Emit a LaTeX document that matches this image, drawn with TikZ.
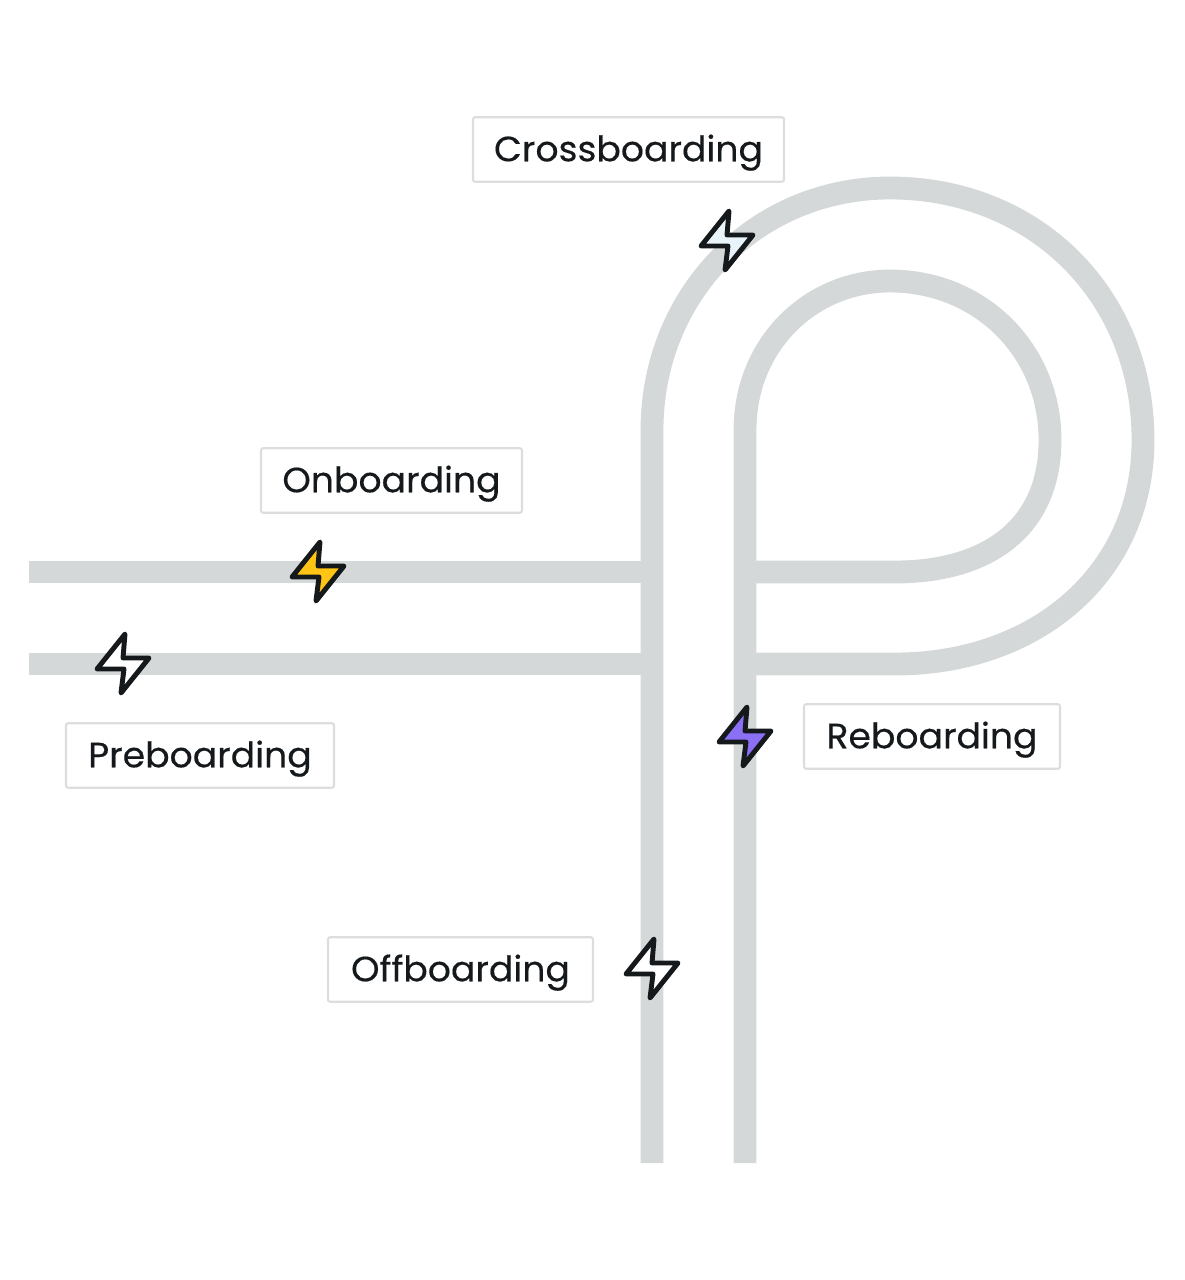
\documentclass[tikz,border=0pt]{standalone}
\usepackage{fontspec}
\setmainfont[FakeBold=0.3, FakeStretch=1.03]{Poppins}
\definecolor{trackgray}{HTML}{D5D8D8}
\definecolor{labelgray}{HTML}{DCDEDE}
\definecolor{inkblack}{HTML}{15191C}
\definecolor{boltice}{HTML}{E8F4FA}
\definecolor{boltyellow}{HTML}{FFC414}
\definecolor{boltviolet}{HTML}{8B6FF5}
\tikzset{
  track/.style={draw=trackgray, line width=13pt},
  stage/.style={draw=labelgray, line width=1.2pt, fill=white, rounded corners=1.2pt, inner sep=0pt,
    text=inkblack, font=\fontsize{20}{24}\selectfont, minimum height=1.29cm, text height=16pt, text depth=2.6pt},
  bolt/.style={draw=inkblack, line width=2.8pt, line join=round, line cap=round}
}
\begin{document}
\begin{tikzpicture}[x=0.02cm, y=-0.02cm]
\useasboundingbox (0,0) rectangle (1184,1280);
% tracks
\coordinate (outerL) at (29,664);
\coordinate (outerJ) at (652,664);
\coordinate (innerL) at (29,572);
\coordinate (innerJ) at (652,572);
\draw[track] (outerL) -- (outerJ);
\draw[track] (innerL) -- (innerJ);
\draw[track] (652,1163) -- (652,430)
  .. controls (652,295) and (755,188) .. (890,188)
  .. controls (1035,188) and (1143,295) .. (1143,440)
  .. controls (1143,575) and (1035,664) .. (895,664) -- (745,664);
\draw[track] (745,1163) -- (745,430)
  .. controls (745,345) and (810,281) .. (890,281)
  .. controls (980,281) and (1050,350) .. (1050,440)
  .. controls (1050,530) and (985,572) .. (895,572) -- (745,572);

% labels
\node[stage, minimum width=6.22cm] (crossboarding) at (628.5,149.5) {Crossboarding};
\node[stage, minimum width=5.22cm] (onboarding) at (391.5,480.5) {Onboarding};
\node[stage, minimum width=5.36cm] (preboarding) at (200,755.5) {Preboarding};
\node[stage, minimum width=5.12cm] (reboarding) at (932,736.5) {Reboarding};
\node[stage, minimum width=5.30cm] (offboarding) at (460.5,969.5) {Offboarding};

% bolts
\foreach \x/\y/\c in {727/240/boltice, 318/571/boltyellow, 123/663/white, 745/736/boltviolet, 652/968/white}
    \filldraw[bolt, fill=\c, shift={(\x,\y)}] (2,-29) -- (0,-5) -- (26,-5) -- (-2,30) -- (1,6) -- (-26,6) -- cycle;
\end{tikzpicture}
\end{document}
